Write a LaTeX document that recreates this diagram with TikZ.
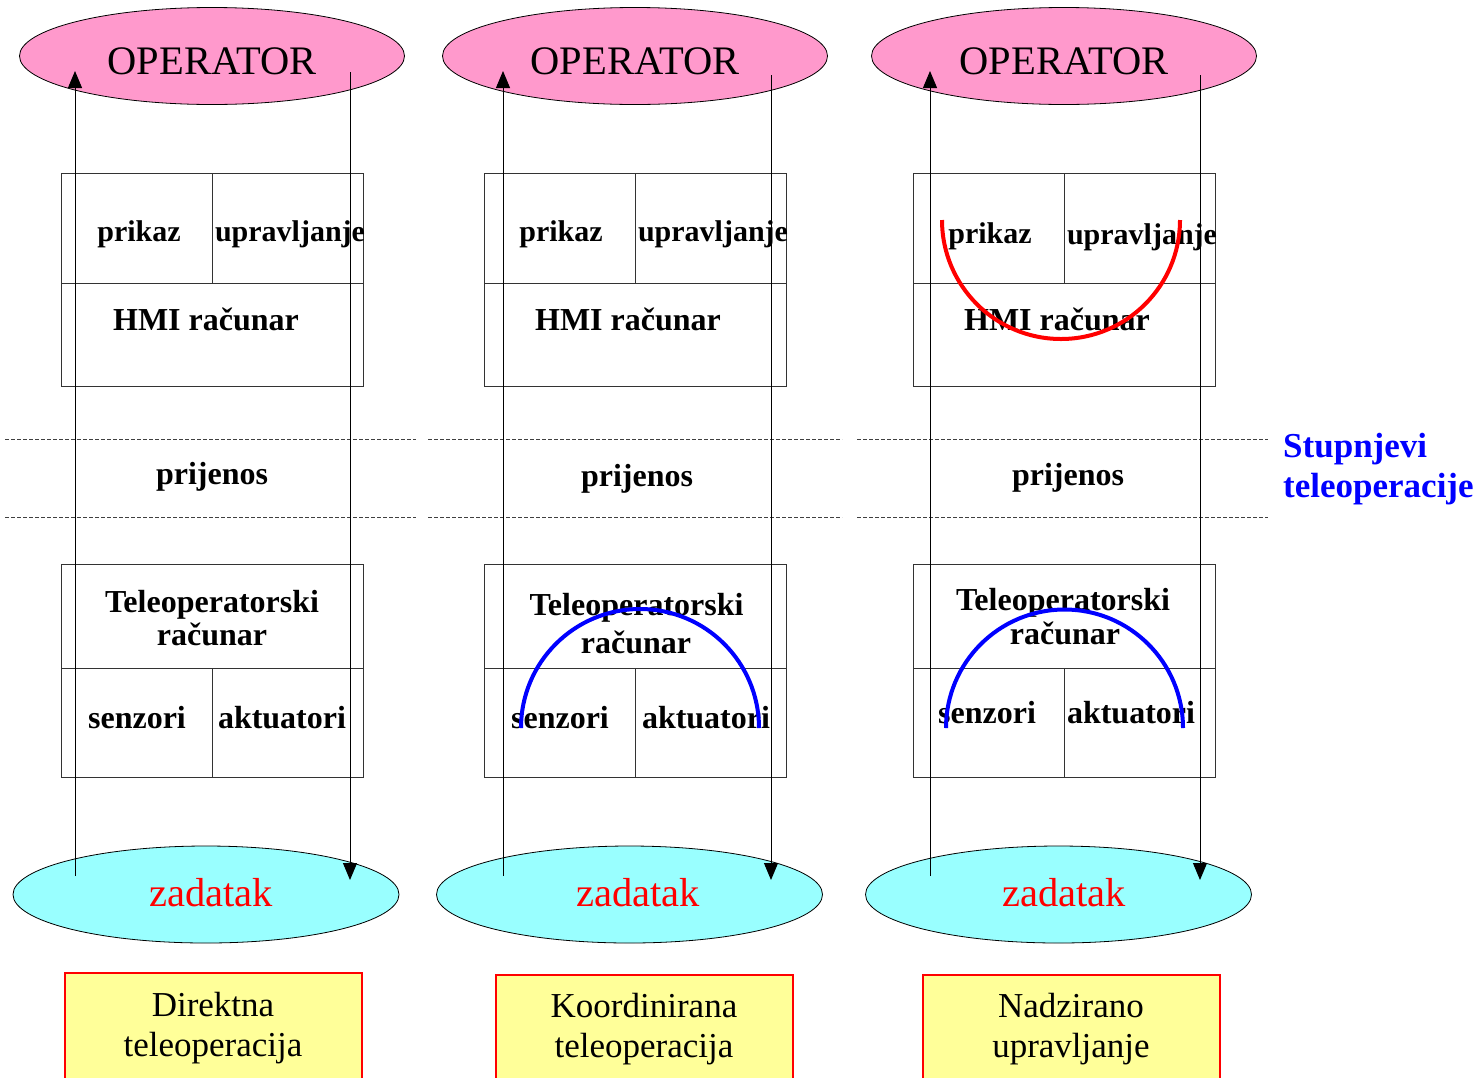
\documentclass[tikz,border=0pt]{standalone}
\usepackage{fontspec}
\setmainfont{Liberation Serif}
\usetikzlibrary{shapes.geometric,arrows.meta}
\definecolor{opink}{HTML}{FF99CC}
\definecolor{tcyan}{HTML}{99FFFF}
\definecolor{lyellow}{HTML}{FFFF99}
\newcommand\fBig{\fontsize{40.5}{44}\selectfont}
\newcommand\fMid{\fontsize{35}{40}\selectfont}
\newcommand\fBold{\fontsize{32}{36}\selectfont\bfseries}
\newcommand\fBoldS{\fontsize{30}{34}\selectfont\bfseries}
\tikzset{
 opell/.style={ellipse, draw=black, line width=0.8pt, fill=opink, minimum width=385pt, minimum height=97pt, inner sep=0pt, font=\fBig, text height=36pt, text depth=0pt},
 taskell/.style={ellipse, draw=black, line width=0.8pt, fill=tcyan, minimum width=386pt, minimum height=97pt, inner sep=0pt},
 tasklbl/.style={anchor=base, inner sep=0pt, font=\fBig, text=red},
 cellbox/.style={draw=black!80, line width=1pt, minimum width=302pt, inner sep=0pt, anchor=north west},
 divider/.style={draw=black!80, line width=1pt},
 bl/.style={anchor=base, inner sep=0pt, font=\fBold},
 bls/.style={anchor=base, inner sep=0pt, font=\fBoldS},
 layer/.style={draw=black!75, line width=0.7pt, dash pattern=on 4pt off 2pt},
 flow/.style={draw=black, line width=1pt, -{Triangle[length=17pt,width=14pt]}},
 modebox/.style={draw=red, line width=2pt, fill=lyellow, minimum width=297pt, minimum height=130pt, inner sep=0pt, anchor=north west},
 modelbl/.style={anchor=base, inner sep=0pt, font=\fMid},
 scopearc/.style={line width=4pt},
 degree/.style={anchor=base west, inner sep=0pt, font=\fMid\bfseries, text=blue},
}
\begin{document}
\begin{tikzpicture}[x=1pt,y=-1pt]
\useasboundingbox (0,0) rectangle (1480,1077);
\clip (0,0) rectangle (1480,1077);

% ---------- ellipses ----------
\node[opell] (op1) at (212,56) {OPERATOR};
\node[opell] (op2) at (635,56) {OPERATOR};
\node[opell] (op3) at (1064,56) {OPERATOR};
\node[taskell] (task1) at (206,894.5) {};
\node[taskell] (task2) at (629.5,894.5) {};
\node[taskell] (task3) at (1058.5,894.5) {};

% ---------- HMI boxes ----------
\node[cellbox, minimum height=213pt] (hmi1) at (61,173) {};
\node[cellbox, minimum height=213pt] (hmi2) at (484,173) {};
\node[cellbox, minimum height=213pt] (hmi3) at (913,173) {};
\draw[divider] (61,283) -- (363,283);  \draw[divider] (212,173) -- (212,283);
\draw[divider] (484,283) -- (786,283); \draw[divider] (635,173) -- (635,283);
\draw[divider] (913,283) -- (1215,283); \draw[divider] (1064,173) -- (1064,283);

% ---------- teleoperator boxes ----------
\node[cellbox, minimum height=213pt] (tel1) at (61,564) {};
\node[cellbox, minimum height=213pt] (tel2) at (484,564) {};
\node[cellbox, minimum height=213pt] (tel3) at (913,564) {};
\draw[divider] (61,668) -- (363,668);  \draw[divider] (212,668) -- (212,777);
\draw[divider] (484,668) -- (786,668); \draw[divider] (635,668) -- (635,777);
\draw[divider] (913,668) -- (1215,668); \draw[divider] (1064,668) -- (1064,777);

% ---------- dashed layer lines ----------
\draw[layer] (5,439) -- (416,439);   \draw[layer] (5,517) -- (416,517);
\draw[layer] (428,439) -- (842,439); \draw[layer] (428,517) -- (842,517);
\draw[layer] (857,439) -- (1268,439); \draw[layer] (857,517) -- (1268,517);

% ---------- flow lines ----------
\coordinate (u1s) at (75,876);   \coordinate (u1e) at (75,71);
\coordinate (d1s) at (350,72);   \coordinate (d1e) at (350,880);
\coordinate (u2s) at (503,876);  \coordinate (u2e) at (503,71);
\coordinate (d2s) at (771,75);   \coordinate (d2e) at (771,880);
\coordinate (u3s) at (930,876);  \coordinate (u3e) at (930,71);
\coordinate (d3s) at (1200,75);  \coordinate (d3e) at (1200,880);
\draw[flow] (u1s) -- (u1e); \draw[flow] (d1s) -- (d1e);
\draw[flow] (u2s) -- (u2e); \draw[flow] (d2s) -- (d2e);
\draw[flow] (u3s) -- (u3e); \draw[flow] (d3s) -- (d3e);

% ---------- mode boxes ----------
\node[modebox] (mode1) at (64,972) {};
\node[modebox] (mode2) at (495,974) {};
\node[modebox] (mode3) at (922,974) {};

% ---------- texts column 1 ----------
\node[bls] (pr1) at (139,241) {prikaz};
\node[bls] (up1) at (290,241) {upravljanje};
\node[bl] (hm1) at (206,330) {HMI računar};
\node[bl] (pj1) at (212,484) {prijenos};
\node[bl] (ta1) at (212,612) {Teleoperatorski};
\node[bl] (tb1) at (212,645) {računar};
\node[bl] (se1) at (137,728) {senzori};
\node[bl] (ak1) at (282,728) {aktuatori};
\node[tasklbl] (zl1) at (211,906) {zadatak};
\node[modelbl] (ma1) at (213,1016) {Direktna};
\node[modelbl] (mb1) at (213,1056) {teleoperacija};

% ---------- texts column 2 ----------
\node[bls] (pr2) at (561,241) {prikaz};
\node[bls] (up2) at (713,241) {upravljanje};
\node[bl] (hm2) at (628,330) {HMI računar};
\node[bl] (pj2) at (637,486) {prijenos};
\node[bl] (ta2) at (636.5,615) {Teleoperatorski};
\node[bl] (tb2) at (636,653) {računar};
\node[bl] (se2) at (560,728) {senzori};
\node[bl] (ak2) at (706,728) {aktuatori};
\node[tasklbl] (zl2) at (638,906) {zadatak};
\node[modelbl] (ma2) at (644,1017) {Koordinirana};
\node[modelbl] (mb2) at (644,1057) {teleoperacija};

% ---------- texts column 3 ----------
\node[bls] (pr3) at (990,243) {prikaz};
\node[bls] (up3) at (1142,244) {upravljanje};
\node[bl] (hm3) at (1057,330) {HMI računar};
\node[bl] (pj3) at (1068,485) {prijenos};
\node[bl] (ta3) at (1063,610) {Teleoperatorski};
\node[bl] (tb3) at (1065,644) {računar};
\node[bl] (se3) at (987,723) {senzori};
\node[bl] (ak3) at (1131,723) {aktuatori};
\node[tasklbl] (zl3) at (1064,906) {zadatak};
\node[modelbl] (ma3) at (1071,1017) {Nadzirano};
\node[modelbl] (mb3) at (1071,1057) {upravljanje};

% ---------- scope arcs ----------
\draw[scopearc, red] (942,220) arc[start angle=180, end angle=0, radius=119];
\draw[scopearc, blue] (521,728) arc[start angle=180, end angle=360, radius=119];
\draw[scopearc, blue] (946,728) arc[start angle=180, end angle=360, radius=118.5];

% ---------- side label ----------
\node[degree] (deg1) at (1283,457) {Stupnjevi};
\node[degree] (deg2) at (1283,497) {teleoperacije};
\end{tikzpicture}
\end{document}
